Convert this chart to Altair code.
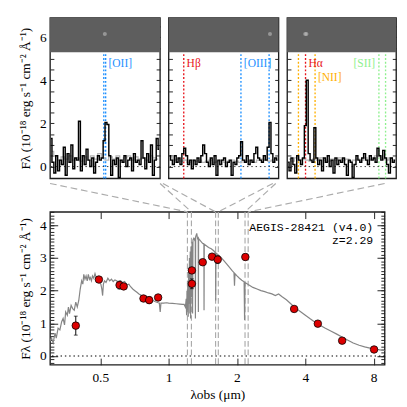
import altair as alt
import pandas as pd

SERIF = "Liberation Serif"
MONO = "Liberation Mono"
YTITLE = "F\u03bb (10\u207b\u00b9\u2078 erg s\u207b\u00b9 cm\u207b\u00b2 \u00c5\u207b\u00b9)"
XTITLE = "\u03bbobs (\u03bcm)"

BLUE = "#1e90ff"
RED = "#e8141c"
ORANGE = "#ffb000"
GREEN = "#8ef08e"

# ---------------- top panels (observed wavelength, Angstrom) ----------------
p1_range = [12000, 12530]
p2_range = [15909, 16526]
p3_range = [21465, 22218]

p1_flux = [1.3, 0.2, -0.3, 0.5, -0.2, 0.3, 0.1, 0.9, -0.4, 0.6, 0.2, 1.0, -0.1, 0.4, 0.3,
           2.1, -0.2, 0.5, 0.1, 0.8, 0.3, 0.0, 0.4, -0.3, 0.2, 0.5, 0.3, 0.4, 1.2, 2.05,
           1.95, 0.5, -0.4, 0.3, 0.1, 0.4, -0.5, 0.3, 0.2, 0.5, 0.0, 0.3, 0.4, -0.2, 0.6,
           0.2, 0.3, 0.1, 1.2, 0.4, -0.1, 0.6, 0.2, 1.0, -0.4, 0.3, 1.3, 0.8]
p2_flux = [0.5, 0.3, 0.1, 0.5, 0.2, 0.4, 0.1, 0.6, 0.85, 0.5, 0.1, 0.3, -0.1, 0.3, 0.1,
           0.4, 0.2, 0.5, 1.0, 0.6, 0.2, 0.0, 0.4, 0.1, 0.5, -0.4, 0.3, 0.1, 0.3, 0.4,
           0.0, 0.2, 0.3, -0.4, 0.2, 0.1, 0.4, 0.5, 1.15, 0.3, 0.2, 0.5, 0.1, 0.3, 0.2,
           0.6, 0.9, 0.4, 0.3, 0.2, 0.5, 0.3, 0.9, 2.05, 0.6, 0.2, 0.4, 0.3]
p3_flux = [0.2, -0.2, 0.4, 0.1, -0.3, 0.5, 0.3, 0.1, 0.4, 1.9, 4.0, 0.6, 0.3, 0.2, 1.8,
           0.4, 0.1, 0.3, -0.2, 0.4, 0.2, 0.5, 0.0, 0.3, -0.3, 0.4, 0.1, 0.3, 0.2, 0.4,
           0.1, -0.4, 0.3, 0.2, -0.5, 0.1, 0.5, 0.3, 0.2, 0.4, 0.6, 0.3, 0.1, 0.5, 0.3,
           0.4, 0.2, 0.85, 0.5, 0.3, 0.75, 0.4, 0.1, -0.3, 0.4, 0.2, 0.3]

p1_gray = [0.7, 0.5, 0.3, 0.45, 0.35, 0.5, 0.3, 0.4, 0.25, 0.45, 0.3, 0.5, 0.35, 0.6, 0.4,
           0.3, 0.45, 0.35, 0.5, 0.3, 0.4, 0.5, 0.3, 0.45, 0.35, 0.4, 0.3, 0.5, 0.4, 0.35]
p2_gray = [0.45, 0.3, 0.35, 0.25, 0.3, 0.2, 0.3, 0.25, 0.3, 0.2, 0.25, 0.3, 0.2, 0.25, 0.3,
           0.2, 0.25, 0.3, 0.25, 0.2, 0.3, 0.25, 0.3, 0.2, 0.3, 0.35, 0.3, 0.25, 0.3, 0.35]
p3_gray = [0.35, 0.25, 0.4, 0.3, 0.35, 0.3, 0.25, 0.35, 0.3, 0.4, 0.3, 0.25, 0.35, 0.3, 0.4,
           0.3, 0.35, 0.25, 0.3, 0.35, 0.3, 0.4, 0.3, 0.35, 0.5, 0.45, 0.35, 0.3, 0.4, 0.3]

p1_lines = [12259, 12268]
p1_line_colors = [BLUE, BLUE]
p2_lines = [15994, 16315, 16473]
p2_line_colors = [RED, BLUE, BLUE]
p3_lines = [21543, 21592, 21658, 22099, 22145]
p3_line_colors = [ORANGE, RED, ORANGE, GREEN, GREEN]

p1_labels = ["[OII]"]
p1_label_lam = [12268]
p1_label_y = [4.8]
p1_label_col = [BLUE]
p1_label_align = ["left"]
p2_labels = ["H\u03b2", "[OIII]"]
p2_label_lam = [15994, 16315]
p2_label_y = [4.8, 4.8]
p2_label_col = [RED, BLUE]
p2_label_align = ["left", "left"]
p3_labels = ["H\u03b1", "[NII]", "[SII]"]
p3_label_lam = [21592, 21658, 22099]
p3_label_y = [4.8, 4.15, 4.8]
p3_label_col = [RED, ORANGE, GREEN]
p3_label_align = ["left", "left", "right"]

# faint bright spots in the 2D spectra (line emission)
p1_spot_lam = [12264]
p2_spot_lam = [16478]
p3_spot_lam = [21590, 21598]

top_ydomain = [-0.55, 6.9]
img_bottom = 5.3
img_spot_y = 6.15
top_yticks = [0, 0.5, 1, 1.5, 2, 2.5, 3, 3.5, 4, 4.5, 5, 5.5, 6, 6.5]

# ---------------- bottom panel (SED) ----------------
model_lam = [0.300, 0.305, 0.310, 0.316, 0.320, 0.326, 0.332, 0.338, 0.343, 0.348, 0.352, 0.358,
             0.362, 0.366, 0.372, 0.378, 0.384, 0.390, 0.396, 0.402, 0.408, 0.414, 0.419, 0.423,
             0.428, 0.433, 0.438, 0.443, 0.448, 0.452, 0.457, 0.462, 0.468, 0.474, 0.480, 0.486,
             0.491, 0.497, 0.503, 0.508, 0.512, 0.516, 0.522, 0.530, 0.540, 0.550, 0.560, 0.570,
             0.580, 0.590, 0.600, 0.612, 0.625, 0.640, 0.655, 0.668, 0.680, 0.695, 0.710, 0.725,
             0.740, 0.760, 0.780, 0.800, 0.825, 0.850, 0.875, 0.900, 0.910, 0.918, 0.925, 0.950,
             0.980, 1.000, 1.040, 1.080, 1.120, 1.150, 1.170, 1.185, 1.195, 1.200, 1.205, 1.210,
             1.215, 1.220, 1.225, 1.230, 1.235, 1.240, 1.245, 1.250, 1.255, 1.262, 1.268, 1.275,
             1.280, 1.290, 1.300, 1.310, 1.312, 1.315, 1.330, 1.340, 1.350, 1.352, 1.355, 1.370,
             1.390, 1.410, 1.430, 1.432, 1.435, 1.460, 1.500, 1.540, 1.580, 1.610, 1.612, 1.615,
             1.650, 1.700, 1.750, 1.800, 1.850, 1.900, 1.940, 1.950, 1.960, 2.000, 2.050, 2.100,
             2.150, 2.160, 2.170, 2.250, 2.350, 2.450, 2.550, 2.650, 2.750, 2.850, 2.950, 3.050,
             3.150, 3.300, 3.450, 3.600, 3.800, 4.000, 4.200, 4.400, 4.600, 4.900, 5.200, 5.500,
             5.800, 6.100, 6.500, 6.900, 7.300, 7.700, 8.100, 8.500, 8.940]
model_flux = [0.45, 0.55, 0.40, 0.70, 0.55, 0.85, 0.80, 1.05, 1.15, 0.95, 1.35, 1.25,
              1.50, 1.30, 1.55, 1.45, 1.40, 1.65, 1.50, 1.70, 2.05, 2.30, 2.20, 2.50,
              2.35, 2.45, 2.30, 2.50, 2.35, 2.40, 2.30, 2.45, 2.38, 2.52, 2.40, 2.30,
              2.35, 2.25, 2.20, 2.05, 1.85, 2.20, 2.30, 2.25, 2.38, 2.30, 2.35, 2.28,
              2.33, 2.30, 2.25, 2.30, 2.25, 2.28, 2.18, 2.20, 2.12, 2.05, 2.00, 1.95,
              1.90, 1.85, 1.80, 1.76, 1.72, 1.70, 1.66, 1.63, 1.62, 1.35, 1.62, 1.62,
              1.63, 1.62, 1.61, 1.60, 1.59, 1.58, 1.58, 1.50, 1.75, 1.25, 2.00, 1.40,
              2.30, 1.20, 2.70, 1.60, 3.00, 1.30, 3.20, 1.15, 3.35, 1.80, 3.50, 1.30,
              3.55, 3.60, 3.55, 3.62, 1.15, 3.65, 3.75, 3.60, 3.62, 1.35, 3.60, 3.55,
              3.50, 3.45, 3.42, 1.40, 3.42, 3.38, 3.32, 3.28, 3.22, 3.15, 1.70, 3.15,
              3.10, 3.02, 2.92, 2.82, 2.72, 2.62, 2.55, 2.15, 2.52, 2.45, 2.38, 2.32,
              2.27, 1.10, 2.25, 2.18, 2.10, 2.05, 2.00, 1.97, 1.93, 1.90, 1.85, 1.90,
              1.82, 1.72, 1.60, 1.48, 1.36, 1.25, 1.14, 1.04, 0.96, 0.85, 0.76, 0.67,
              0.58, 0.50, 0.40, 0.33, 0.28, 0.24, 0.21, 0.19, 0.17]

phot_lam = [0.390, 0.493, 0.608, 0.634, 0.775, 0.821, 0.899, 1.266, 1.266, 1.413, 1.553,
            1.645, 2.177, 3.57, 4.54, 5.81, 8.03]
phot_flux = [0.93, 2.34, 2.17, 2.13, 1.76, 1.71, 1.79, 2.62, 2.21, 2.87, 3.04, 2.95, 3.03,
             1.44, 0.99, 0.47, 0.20]
phot_err = [0.29, 0.05, 0.12, 0.05, 0.05, 0.10, 0.08, 0.05, 0.15, 0.05, 0.05, 0.12, 0.09,
            0.03, 0.03, 0.03, 0.03]

win_lo = [1.21, 1.61, 2.17]
win_hi = [1.26, 1.655, 2.24]
# bottom corners of the three upper panels, in the SED's wavelength axis units
panel_edge_lo = [0.3005, 0.944, 2.962]
panel_edge_hi = [0.917, 2.877, 8.94]

bot_xdomain = [0.3005, 8.94]
bot_ydomain = [-0.27, 4.41]
connector_top = 5.28
bot_xticks = [0.5, 1, 2, 4, 8]
bot_yticks = [0, 1, 2, 3, 4]
bot_yminor = [round(-0.2 + 0.1 * k, 1) for k in range(47)]

obj_text = ["AEGIS-28421 (v4.0)", "z=2.29"]
obj_text_y = [3.95, 3.54]

PW = [115, 115, 114]
PH = 168
BW, BH = 350, 160


def top_panel(rng, flux, gray, lines, line_cols, labels, lab_lam, lab_y, lab_col,
              lab_align, spots, width, first):
    n = len(flux)
    step = (rng[1] - rng[0]) / n
    spec = pd.DataFrame({"lam": [rng[0] + (i + 0.5) * step for i in range(n)], "f": flux})
    m = len(gray)
    gstep = (rng[1] - rng[0]) / m
    gdf = pd.DataFrame({"lam": [rng[0] + (i + 0.5) * gstep for i in range(m)], "f": gray})
    xs = alt.Scale(domain=rng, nice=False, zero=False)
    ys = alt.Scale(domain=top_ydomain, nice=False, zero=False)

    if first:
        yaxis = alt.Axis(orient="left", values=top_yticks, tickSize=4, offset=-4,
                         labelExpr="datum.value % 2 === 0 ? format(datum.value, 'd') : ''",
                         labelPadding=4, title=YTITLE, titlePadding=8, domain=False,
                         grid=False)
    else:
        yaxis = alt.Axis(orient="left", values=top_yticks, tickSize=4, offset=-4,
                         labels=False, title=None, domain=False, grid=False)
    xaxis = alt.Axis(orient="bottom", tickCount=10, tickSize=3, offset=-3, labels=False,
                     title=None, domain=False, grid=False)

    img = alt.Chart(pd.DataFrame({"x": [rng[0]], "x2": [rng[1]], "y": [img_bottom],
                                  "y2": [top_ydomain[1]]})).mark_rect(color="#5e5e5e").encode(
        x=alt.X("x:Q", scale=xs, axis=None), x2="x2:Q",
        y=alt.Y("y:Q", scale=ys, axis=None), y2="y2:Q")
    spot = alt.Chart(pd.DataFrame({"lam": spots, "y": [img_spot_y] * len(spots)})).mark_point(
        filled=True, color="#bdbdbd", size=18, opacity=0.6).encode(
        x=alt.X("lam:Q", scale=xs, axis=None), y=alt.Y("y:Q", scale=ys, axis=None))
    ldf = pd.DataFrame({"lam": lines, "c": line_cols, "y": [top_ydomain[0]] * len(lines),
                        "y2": [img_bottom] * len(lines)})
    lrule = alt.Chart(ldf).mark_rule(strokeDash=[2, 2], strokeWidth=1.4).encode(
        x=alt.X("lam:Q", scale=xs, axis=None),
        y=alt.Y("y:Q", scale=ys, axis=None), y2="y2:Q",
        color=alt.Color("c:N", scale=None))
    zero = alt.Chart(pd.DataFrame({"z": [0]})).mark_rule(
        strokeDash=[1.5, 3], color="#333333", strokeWidth=1).encode(
        y=alt.Y("z:Q", scale=ys, axis=None))
    gline = alt.Chart(gdf).mark_line(interpolate="step", color="#b4b4b4", strokeWidth=1.3).encode(
        x=alt.X("lam:Q", scale=xs, axis=None), y=alt.Y("f:Q", scale=ys, axis=None))
    bline = alt.Chart(spec).mark_line(interpolate="step", color="black", strokeWidth=1.5).encode(
        x=alt.X("lam:Q", scale=xs, axis=xaxis), y=alt.Y("f:Q", scale=ys, axis=yaxis))
    right = alt.Chart(spec).mark_point(opacity=0).encode(
        x=alt.X("lam:Q", scale=xs, axis=None),
        y=alt.Y("f:Q", scale=ys, axis=alt.Axis(orient="right", values=top_yticks, tickSize=4,
                                                offset=-4, labels=False, title=None,
                                                domain=False, grid=False)))
    layers = [img, spot, lrule, zero, gline, bline, right]
    labdf = pd.DataFrame({"t": labels, "lam": lab_lam, "y": lab_y, "c": lab_col, "a": lab_align})
    for al, dx in (("left", 3), ("right", -4)):
        sub = labdf[labdf["a"] == al]
        if len(sub):
            layers.append(alt.Chart(sub).mark_text(align=al, baseline="middle", dx=dx,
                                                   font=SERIF, fontSize=12).encode(
                x=alt.X("lam:Q", scale=xs, axis=None), y=alt.Y("y:Q", scale=ys, axis=None),
                text="t:N", color=alt.Color("c:N", scale=None)))
    return alt.layer(*layers).resolve_axis(y="independent").properties(width=width, height=PH)


tp1 = top_panel(p1_range, p1_flux, p1_gray, p1_lines, p1_line_colors, p1_labels, p1_label_lam,
                p1_label_y, p1_label_col, p1_label_align, p1_spot_lam, PW[0], True)
tp2 = top_panel(p2_range, p2_flux, p2_gray, p2_lines, p2_line_colors, p2_labels, p2_label_lam,
                p2_label_y, p2_label_col, p2_label_align, p2_spot_lam, PW[1], False)
tp3 = top_panel(p3_range, p3_flux, p3_gray, p3_lines, p3_line_colors, p3_labels, p3_label_lam,
                p3_label_y, p3_label_col, p3_label_align, p3_spot_lam, PW[2], False)

# ---------------- bottom chart ----------------
xs_b = alt.Scale(type="log", domain=bot_xdomain, nice=False)
ys_b = alt.Scale(domain=bot_ydomain, nice=False, zero=False)

win_df = pd.DataFrame({"lam": win_lo + win_hi})
conn_df = pd.DataFrame({"x1": panel_edge_lo + panel_edge_hi, "x2": win_lo + win_hi,
                        "y1": [connector_top] * 6, "y2": [bot_ydomain[1]] * 6})
model_df = pd.DataFrame({"lam": model_lam, "f": model_flux, "i": list(range(len(model_lam)))})
phot_df = pd.DataFrame({"lam": phot_lam, "f": phot_flux,
                        "lo": [f - e for f, e in zip(phot_flux, phot_err)],
                        "hi": [f + e for f, e in zip(phot_flux, phot_err)]})
cap_df = pd.DataFrame({"lam": phot_lam + phot_lam, "y": list(phot_df["lo"]) + list(phot_df["hi"])})
txt_df = pd.DataFrame({"t": obj_text, "y": obj_text_y, "x": [bot_xdomain[1]] * 2})

dash_col = "#ababab"
wins = alt.Chart(win_df).mark_rule(strokeDash=[6, 3], color=dash_col, strokeWidth=1.2).encode(
    x=alt.X("lam:Q", scale=xs_b, axis=None))
conns = alt.Chart(conn_df).mark_rule(strokeDash=[7, 4], color=dash_col, strokeWidth=1.2).encode(
    x=alt.X("x1:Q", scale=xs_b, axis=None), x2="x2:Q",
    y=alt.Y("y1:Q", scale=ys_b, axis=None), y2="y2:Q")
zero_b = alt.Chart(pd.DataFrame({"z": [0]})).mark_rule(
    strokeDash=[1.5, 3], color="black", strokeWidth=1.2).encode(
    y=alt.Y("z:Q", scale=ys_b, axis=None))
model = alt.Chart(model_df).mark_line(color="#858585", strokeWidth=1.25).encode(
    x=alt.X("lam:Q", scale=xs_b,
            axis=alt.Axis(orient="bottom", values=bot_xticks, tickSize=7, offset=-7,
                          format="~g", labelPadding=6, title=XTITLE, titlePadding=4,
                          domain=False, grid=False)),
    y=alt.Y("f:Q", scale=ys_b,
            axis=alt.Axis(orient="left", values=bot_yticks, tickSize=8, offset=-8, format="d",
                          labelPadding=4, title=YTITLE, titlePadding=8, domain=False,
                          grid=False)),
    order="i:Q")
errs = alt.Chart(phot_df).mark_rule(color="black", strokeWidth=1).encode(
    x=alt.X("lam:Q", scale=xs_b, axis=None), y=alt.Y("lo:Q", scale=ys_b, axis=None), y2="hi:Q")
caps = alt.Chart(cap_df).mark_tick(color="black", thickness=1, size=4, orient="horizontal").encode(
    x=alt.X("lam:Q", scale=xs_b, axis=None), y=alt.Y("y:Q", scale=ys_b, axis=None))
pts = alt.Chart(phot_df).mark_point(filled=True, fill="#dd0000", stroke="black", strokeWidth=0.8,
                                    size=62, opacity=1).encode(
    x=alt.X("lam:Q", scale=xs_b, axis=None), y=alt.Y("f:Q", scale=ys_b, axis=None))
txt = alt.Chart(txt_df).mark_text(align="right", baseline="middle", dx=-12, font=MONO,
                                  fontSize=12, color="black").encode(
    x=alt.X("x:Q", scale=xs_b, axis=None), y=alt.Y("y:Q", scale=ys_b, axis=None), text="t:N")

ax_top_leftminor = alt.Chart(phot_df).mark_point(opacity=0).encode(
    x=alt.X("lam:Q", scale=xs_b,
            axis=alt.Axis(orient="top", values=bot_xticks, tickSize=7, offset=-7, labels=False,
                          title=None, domain=False, grid=False)),
    y=alt.Y("f:Q", scale=ys_b,
            axis=alt.Axis(orient="left", values=bot_yminor, tickSize=4, offset=-4,
                          labels=False, title=None, domain=False, grid=False)))
ax_right = alt.Chart(phot_df).mark_point(opacity=0).encode(
    x=alt.X("lam:Q", scale=xs_b, axis=None),
    y=alt.Y("f:Q", scale=ys_b,
            axis=alt.Axis(orient="right", values=bot_yticks, tickSize=8, offset=-8,
                          labels=False, title=None, domain=False, grid=False)))
ax_right_minor = alt.Chart(phot_df).mark_point(opacity=0).encode(
    x=alt.X("lam:Q", scale=xs_b, axis=None),
    y=alt.Y("f:Q", scale=ys_b,
            axis=alt.Axis(orient="right", values=bot_yminor, tickSize=4, offset=-4,
                          labels=False, title=None, domain=False, grid=False)))

bottom = alt.layer(wins, conns, zero_b, model, errs, caps, pts, txt, ax_top_leftminor,
                   ax_right, ax_right_minor).resolve_axis(
    x="independent", y="independent").properties(width=BW, height=BH)

top_row = alt.hconcat(tp1, tp2, tp3, spacing=3)
bottom_row = alt.hconcat(bottom)

chart = alt.vconcat(top_row, bottom_row, spacing=0).properties(
    padding={"left": 10, "top": 0, "right": 0, "bottom": 0}
).configure_view(stroke="#1e1e1e", strokeWidth=1.4).configure_axis(
    labelFont=SERIF, labelFontSize=14, labelColor="black", titleFont=SERIF, titleFontSize=14,
    titleFontWeight="normal", titleColor="black", tickColor="#1e1e1e", tickWidth=1)

chart.save("out.html", embed_options={"renderer": "svg", "actions": False})
